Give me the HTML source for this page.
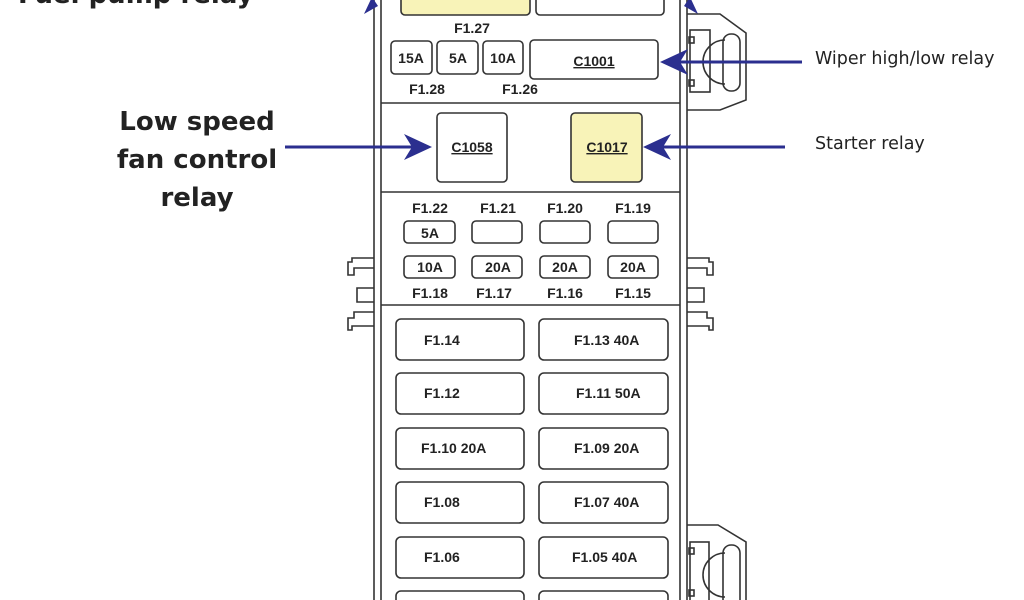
<!DOCTYPE html>
<html><head><meta charset="utf-8"><style>
html,body{margin:0;padding:0;background:#fff;width:1024px;height:600px;overflow:hidden}
svg{display:block;overflow:hidden}
.f{font-family:"Liberation Sans",Arial,sans-serif;font-weight:bold;fill:#222}
</style></head><body>
<svg width="1024" height="600" viewBox="0 0 1024 600" xmlns="http://www.w3.org/2000/svg">
<g fill="none" stroke="#333" stroke-width="1.6">
<line x1="374" y1="0" x2="374" y2="600"/><line x1="381" y1="0" x2="381" y2="600"/>
<line x1="680" y1="0" x2="680" y2="600"/><line x1="687" y1="0" x2="687" y2="600"/>
<line x1="381" y1="103" x2="680" y2="103"/>
<line x1="381" y1="192" x2="680" y2="192"/>
<line x1="381" y1="305" x2="680" y2="305"/>
<rect x="401" y="-20" width="129" height="35" rx="4" fill="#f8f3b8"/>
<rect x="536" y="-20" width="128" height="35" rx="4" fill="#fff"/>
<rect x="391" y="41" width="41" height="33" rx="4"/>
<rect x="437" y="41" width="41" height="33" rx="4"/>
<rect x="483" y="41" width="40" height="33" rx="4"/>
<rect x="530" y="40" width="128" height="39" rx="4"/>
<rect x="437" y="113" width="70" height="69" rx="4"/>
<rect x="571" y="113" width="71" height="69" rx="4" fill="#f8f3b8"/>
<rect x="404" y="221" width="51" height="22" rx="4"/>
<rect x="472" y="221" width="50" height="22" rx="4"/>
<rect x="540" y="221" width="50" height="22" rx="4"/>
<rect x="608" y="221" width="50" height="22" rx="4"/>
<rect x="404" y="256" width="51" height="22" rx="4"/>
<rect x="472" y="256" width="50" height="22" rx="4"/>
<rect x="540" y="256" width="50" height="22" rx="4"/>
<rect x="608" y="256" width="50" height="22" rx="4"/>
<rect x="396" y="319" width="128" height="41" rx="5"/><rect x="539" y="319" width="129" height="41" rx="5"/>
<rect x="396" y="373" width="128" height="41" rx="5"/><rect x="539" y="373" width="129" height="41" rx="5"/>
<rect x="396" y="428" width="128" height="41" rx="5"/><rect x="539" y="428" width="129" height="41" rx="5"/>
<rect x="396" y="482" width="128" height="41" rx="5"/><rect x="539" y="482" width="129" height="41" rx="5"/>
<rect x="396" y="537" width="128" height="41" rx="5"/><rect x="539" y="537" width="129" height="41" rx="5"/>
<rect x="396" y="591" width="128" height="20" rx="5"/><rect x="539" y="591" width="129" height="20" rx="5"/>
<path d="M374 258 H352 V262 H348 V275 H354 V268 H374"/>
<path d="M374 288 H357 V302 H374"/>
<path d="M374 312 H354 V318 H348 V330 H352 V326 H374"/>
<path d="M687 258 H709 V262 H713 V275 H707 V268 H687"/>
<path d="M687 288 H704 V302 H687"/>
<path d="M687 312 H707 V318 H713 V330 H709 V326 H687"/>
<path d="M687 14 H720 L746 33 V100 L720 110 H687"/>
<rect x="690" y="30" width="20" height="62"/>
<rect x="689" y="37" width="5" height="6"/><rect x="689" y="80" width="5" height="6"/>
<path d="M725 40 A22 22 0 0 0 725 84"/>
<rect x="723" y="34" width="17" height="57" rx="8"/>
<path d="M687 525 H718 L746 542 V600"/>
<rect x="690" y="542" width="19" height="66"/>
<rect x="689" y="548" width="5" height="6"/><rect x="689" y="590" width="5" height="6"/>
<path d="M725 553 A22 22 0 0 0 725 597"/>
<rect x="723" y="545" width="17" height="63" rx="8"/>
</g>
<g class="f" font-size="14">
<text x="472" y="33" text-anchor="middle">F1.27</text>
<text x="411" y="63" text-anchor="middle">15A</text>
<text x="458" y="63" text-anchor="middle">5A</text>
<text x="503" y="63" text-anchor="middle">10A</text>
<text x="594" y="66" text-anchor="middle" text-decoration="underline">C1001</text>
<text x="427" y="94" text-anchor="middle">F1.28</text>
<text x="520" y="94" text-anchor="middle">F1.26</text>
<text x="472" y="152" text-anchor="middle" text-decoration="underline">C1058</text>
<text x="607" y="152" text-anchor="middle" text-decoration="underline">C1017</text>
<text x="430" y="213" text-anchor="middle">F1.22</text>
<text x="498" y="213" text-anchor="middle">F1.21</text>
<text x="565" y="213" text-anchor="middle">F1.20</text>
<text x="633" y="213" text-anchor="middle">F1.19</text>
<text x="430" y="238" text-anchor="middle">5A</text>
<text x="430" y="272" text-anchor="middle">10A</text>
<text x="498" y="272" text-anchor="middle">20A</text>
<text x="565" y="272" text-anchor="middle">20A</text>
<text x="633" y="272" text-anchor="middle">20A</text>
<text x="430" y="298" text-anchor="middle">F1.18</text>
<text x="494" y="298" text-anchor="middle">F1.17</text>
<text x="565" y="298" text-anchor="middle">F1.16</text>
<text x="633" y="298" text-anchor="middle">F1.15</text>
<text x="424" y="345">F1.14</text><text x="574" y="345">F1.13 40A</text>
<text x="424" y="398">F1.12</text><text x="576" y="398">F1.11  50A</text>
<text x="421" y="453">F1.10 20A</text><text x="574" y="453">F1.09 20A</text>
<text x="424" y="507">F1.08</text><text x="574" y="507">F1.07  40A</text>
<text x="424" y="562">F1.06</text><text x="572" y="562">F1.05 40A</text>
</g>
<g stroke="#2b2f8f" stroke-width="3" fill="#2b2f8f">
<line x1="285" y1="147" x2="420" y2="147"/>
<polygon points="432,147 404,134 412,147 404,160" stroke="none"/>
<line x1="785" y1="147" x2="656" y2="147"/>
<polygon points="643,147 671,134 663,147 671,160" stroke="none"/>
<line x1="802" y1="62" x2="674" y2="62"/>
<polygon points="660,62 688,49 680,62 688,75" stroke="none"/>
<polygon points="372,-3 364,14 378,6" stroke="none"/>
<polygon points="690,-3 698,14 684,6" stroke="none"/>
</g>
<g font-family="'DejaVu Sans','Liberation Sans',sans-serif" font-weight="bold" font-size="26" fill="#222" text-anchor="middle">
<text x="197" y="130">Low speed</text>
<text x="197" y="168">fan control</text>
<text x="197" y="206">relay</text>
<text x="18" y="3" text-anchor="start">Fuel pump relay</text>
</g>
<g font-family="'DejaVu Sans','Liberation Sans',sans-serif" font-size="17.5" fill="#222">
<text x="815" y="64">Wiper high/low relay</text>
<text x="815" y="149">Starter relay</text>
</g>
</svg>
</body></html>
